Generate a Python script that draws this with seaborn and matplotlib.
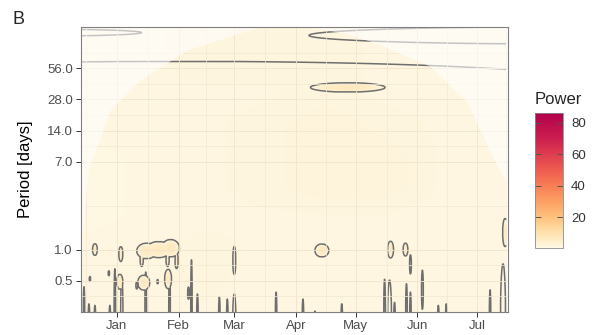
import numpy as np
import pandas as pd
import matplotlib
matplotlib.use("Agg")
import matplotlib.pyplot as plt
import matplotlib.dates as mdates
from matplotlib.colors import LinearSegmentedColormap, Normalize
from matplotlib.cm import ScalarMappable
import seaborn as sns

# ---------------- data ----------------
date_start = "2018-12-14"
date_end = "2019-07-15 12:00"
period_lo = 0.25
period_hi = 140.0

month_ticks = ["2019-01-01", "2019-02-01", "2019-03-01", "2019-04-01",
               "2019-05-01", "2019-06-01", "2019-07-01"]
month_labels = ["Jan", "Feb", "Mar", "Apr", "May", "Jun", "Jul"]
period_ticks = [0.5, 1.0, 7.0, 14.0, 28.0, 56.0]
period_labels = ["0.5", "1.0", "7.0", "14.0", "28.0", "56.0"]

power_ticks = [20, 40, 60, 80]
power_min = 0.6
power_max = 86.3
power_colors = ["#FFF8E4", "#FEE2AE", "#FDC27C", "#FCA063", "#F87E55",
                "#EF5C4F", "#DF3D50", "#CC1F4F", "#B3004C"]
power_color_values = [0.6, 10, 20, 30, 40, 50, 60, 70, 86.3]

# background wavelet power on a coarse grid
bg_dates = ["2018-12-14", "2019-01-15", "2019-02-15", "2019-03-15",
            "2019-04-15", "2019-05-15", "2019-06-15", "2019-07-15"]
bg_periods = [0.25, 0.5, 1, 2, 4, 8, 16, 32, 64, 140]
bg_power = [
    [1.3, 1.5, 1.5, 1.3, 1.3, 1.5, 1.3, 1.5],
    [1.3, 1.5, 1.8, 1.3, 1.3, 1.5, 1.3, 1.5],
    [1.3, 1.5, 1.8, 1.5, 1.5, 1.5, 1.3, 1.5],
    [1.2, 1.3, 1.5, 1.5, 1.5, 1.5, 1.3, 1.3],
    [1.2, 1.3, 1.5, 1.8, 2.2, 2.2, 1.5, 1.3],
    [1.2, 1.3, 1.5, 1.8, 2.2, 2.2, 1.5, 1.3],
    [1.2, 1.5, 1.5, 1.8, 2.2, 1.8, 1.5, 1.3],
    [1.2, 1.5, 1.5, 1.5, 1.8, 1.5, 1.5, 1.3],
    [1.2, 1.5, 1.8, 1.8, 1.8, 1.5, 1.5, 1.3],
    [1.2, 1.5, 1.8, 1.8, 1.8, 1.5, 1.5, 1.3],
]

# closed significance contours (date, period, half width [days], half height [octaves])
loop_dates = ["2018-12-21", "2019-01-03", "2019-01-16", "2019-01-22", "2019-01-28",
              "2019-01-13 12:00", "2019-01-26 12:00", "2019-01-31", "2019-03-01",
              "2019-04-14", "2019-05-18 12:00", "2019-05-26", "2019-07-15",
              "2019-05-28 12:00", "2019-06-03 12:00", "2018-12-18 12:00",
              "2018-12-28", "2019-01-11", "2019-01-21 12:00", "2019-02-06",
              "2019-01-14 12:00", "2019-01-26 18:00", "2019-01-02 12:00", "2019-04-27"]
loop_periods = [1.0, 0.905, 0.97, 1.0, 1.03,
                0.80, 0.80, 0.78, 0.785,
                0.98, 1.0, 1.0, 1.46,
                0.72, 0.41, 0.52,
                0.59, 0.45, 0.49, 0.38,
                0.48, 0.52, 0.49, 36.6]
loop_widths = [1.2, 1.0, 5.0, 6.0, 4.5,
               0.8, 0.8, 0.8, 0.75,
               3.5, 1.5, 1.2, 1.2,
               0.45, 0.45, 0.35,
               0.35, 0.45, 0.35, 0.45,
               3.0, 1.75, 1.5, 18.75]
loop_heights = [0.19, 0.24, 0.25, 0.26, 0.28,
                0.22, 0.22, 0.25, 0.45,
                0.21, 0.27, 0.21, 0.45,
                0.31, 0.63, 0.08,
                0.08, 0.11, 0.07, 0.20,
                0.24, 0.31, 0.24, 0.15]

# significance streaks rising from the smallest periods (date, top period, half width)
streak_dates = ["2018-12-15 12:00", "2018-12-18", "2018-12-21", "2018-12-28 12:00",
                "2018-12-31", "2019-01-03 12:00", "2019-01-15 12:00", "2019-01-27 12:00",
                "2019-02-07 12:00", "2019-02-10 12:00", "2019-02-21 12:00", "2019-02-25 12:00",
                "2019-03-01", "2019-03-22", "2019-04-04 12:00", "2019-04-10 12:00",
                "2019-04-24", "2019-05-15 12:00", "2019-05-18", "2019-05-20 12:00",
                "2019-05-26 12:00", "2019-05-28 12:00", "2019-06-11 12:00", "2019-06-15 12:00",
                "2019-07-07 12:00", "2019-07-14"]
streak_tops = [0.44, 0.30, 0.29, 0.29,
               0.655, 0.55, 0.61, 0.64,
               0.80, 0.374, 0.35, 0.334,
               0.374, 0.39, 0.334, 0.256,
               0.30, 0.52, 0.51, 0.31,
               0.47, 0.39, 0.29, 0.30,
               0.41, 0.73]
streak_widths = [0.4, 0.4, 0.4, 0.4,
                 0.4, 0.6, 0.45, 0.45,
                 0.4, 0.4, 0.4, 0.4,
                 0.8, 0.4, 0.4, 0.4,
                 0.4, 0.45, 1.0, 0.4,
                 0.45, 0.4, 0.4, 0.4,
                 0.4, 1.3]

# long-period significant band and the gaps cut into it
band_date = "2019-03-15"
band_lower_period = 36.8
hole_dates = ["2019-02-02", "2018-11-24", "2019-08-11"]
hole_periods = [42.8, 123.6, 116.2]
hole_widths = [200.0, 50.5, 125.5]
hole_heights = [0.61, 0.11, 0.275]

# cone of influence (days since start, period)
coi_days = [0, 1, 3.5, 14.5, 29.5, 53, 84.5, 97, 109.5, 132, 148.5, 175.5, 188, 193.5, 208, 213.5]
coi_periods = [0.5, 1.6, 5.7, 21.9, 42.8, 83.7, 131, 150, 145, 122.6, 97.8, 58.5, 34, 27.3, 7.1, 4.5]


# ---------------- build fields ----------------
def dn(d):
    return mdates.date2num(pd.to_datetime(d).to_pydatetime())


t0, t1 = dn(date_start), dn(date_end)
y0, y1 = np.log2(period_lo), np.log2(period_hi)
t = np.linspace(t0, t1, 2200)
y = np.linspace(y0, y1, 950)


def ellipse_into(F, tc, yc, wt, wy, mode="add"):
    i0, i1 = np.searchsorted(t, [tc - wt, tc + wt])
    j0, j1 = np.searchsorted(y, [yc - wy, yc + wy])
    if i1 <= i0 or j1 <= j0:
        return
    sub = 1 - ((t[i0:i1][None, :] - tc) / wt) ** 2 - ((y[j0:j1][:, None] - yc) / wy) ** 2
    if mode == "add":
        F[j0:j1, i0:i1] = np.maximum(F[j0:j1, i0:i1], sub)
    else:
        F[j0:j1, i0:i1] = np.minimum(F[j0:j1, i0:i1], -sub)


S_loop = np.full((y.size, t.size), -1.0)
for d, p, w, h in zip(loop_dates, loop_periods, loop_widths, loop_heights):
    ellipse_into(S_loop, dn(d), np.log2(p), w, h)

S_streak = np.full((y.size, t.size), -1.0)
base = y0 - 0.3
for d, p, w in zip(streak_dates, streak_tops, streak_widths):
    ellipse_into(S_streak, dn(d), base, w, np.log2(p) - base)

S_top = np.full((y.size, t.size), -1.0)
ellipse_into(S_top, dn(band_date), np.log2(band_lower_period) + 3.5, 5000, 3.5)
for d, p, w, h in zip(hole_dates, hole_periods, hole_widths, hole_heights):
    ellipse_into(S_top, dn(d), np.log2(p), w, h, mode="cut")

S = np.maximum(np.maximum(S_loop, S_streak), S_top)

# power field
bg_t = dn(bg_dates)
bg_y = np.log2(bg_periods)
rows = np.array([np.interp(t, bg_t, r) for r in bg_power])
power = np.array([np.interp(y, bg_y, rows[:, i]) for i in range(t.size)]).T
power = power + 6.0 * np.clip(S_loop, 0, 1)

# ---------------- plot ----------------
sns.set_theme(style="white")
plt.rcParams["font.family"] = ["Liberation Sans", "DejaVu Sans"]

cmap = LinearSegmentedColormap.from_list(
    "power", [((v - power_min) / (power_max - power_min), c)
              for v, c in zip(power_color_values, power_colors)])
norm = Normalize(vmin=power_min, vmax=power_max)

fig = plt.figure(figsize=(5.96, 3.35), dpi=100)
ax = fig.add_axes([81 / 596, 1 - 312 / 335, (508 - 81) / 596, (312 - 27) / 335])

ax.imshow(power, extent=[t0, t1, y0, y1], origin="lower", aspect="auto",
          cmap=cmap, norm=norm, interpolation="bilinear", zorder=1)
ax.contour(t, y, S, levels=[0], colors="#6E6E6E", linewidths=1.1, zorder=2)

coi_t = t0 + np.array(coi_days, dtype=float)
ax.fill_between(coi_t, np.log2(coi_periods), y1 + 0.5, color="white",
                alpha=0.6, lw=0, zorder=3)

ax.set_xlim(t0, t1)
ax.set_ylim(y0, y1)

# ticks
mt = dn(month_ticks)
ax.set_xticks(mt)
ax.set_xticklabels(month_labels)
ext_t = np.concatenate([[dn("2018-12-01")], mt, [dn("2019-08-01")]])
ax.set_xticks((ext_t[:-1] + ext_t[1:]) / 2, minor=True)
yt = np.log2(period_ticks)
ax.set_yticks(yt)
ax.set_yticklabels(period_labels)
ext_y = np.concatenate([[np.log2(0.25)], yt, [np.log2(112)]])
ax.set_yticks((ext_y[:-1] + ext_y[1:]) / 2, minor=True)

ax.set_axisbelow(False)
ax.grid(True, which="major", color="#F0E4CC", lw=0.6, zorder=2.5)
ax.grid(True, which="minor", color="#F3E8D2", lw=0.5, zorder=2.5)
ax.tick_params(which="major", length=3.5, width=0.7, color="#333333",
               labelsize=9.5, labelcolor="#4D4D4D", pad=2.5,
               bottom=True, left=True)
ax.tick_params(which="minor", length=0)
for s in ax.spines.values():
    s.set_color("#7F7F7F")
    s.set_linewidth(0.8)
    s.set_zorder(4)

ax.set_ylabel("Period [days]", fontsize=12, color="black")
ax.yaxis.set_label_coords(-0.112, 0.5)

# colorbar
cax = fig.add_axes([535 / 596, 1 - 248 / 335, 27.7 / 596, 135 / 335])
cb = fig.colorbar(ScalarMappable(norm=norm, cmap=cmap), cax=cax)
cb.outline.set_edgecolor("#8A8A8A")
cb.outline.set_linewidth(0.6)
cb.set_ticks(power_ticks)
cax.tick_params(length=0, labelsize=9.5, labelcolor="#333333", pad=6)
tr = cax.get_yaxis_transform()
cax.hlines(power_ticks, 0, 0.2, transform=tr, colors="#555555", lw=0.7)
cax.hlines(power_ticks, 0.8, 1.0, transform=tr, colors="#555555", lw=0.7)

fig.text(535 / 596, 1 - 99 / 335, "Power", fontsize=12, ha="left", va="center")
fig.text(12 / 596, 1 - 19 / 335, "B", fontsize=13, ha="left", va="center")

fig.savefig("out.png", dpi=100)
